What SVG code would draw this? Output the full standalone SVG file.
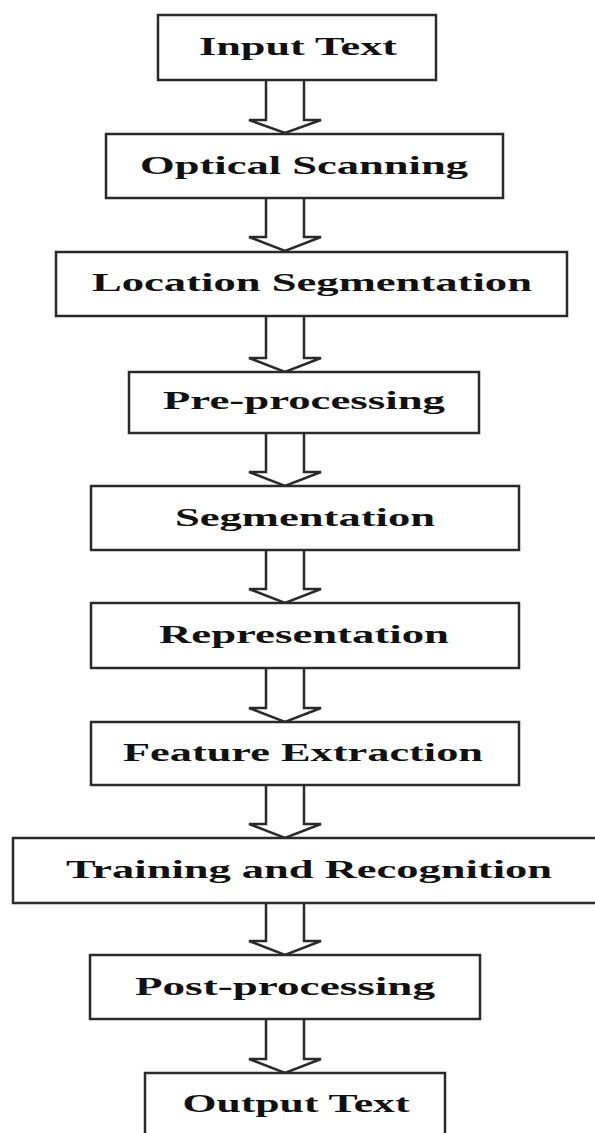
<svg xmlns="http://www.w3.org/2000/svg" width="595" height="1133" viewBox="0 0 595 1133">
<defs>
<style>
.box{fill:#fff;stroke:#2a2a2a;stroke-width:2.5}
.lbl{font-family:"Liberation Serif","Times New Roman",serif;font-weight:bold;font-size:26px;fill:#111;text-anchor:middle}
.arr{fill:#fff;stroke:#2a2a2a;stroke-width:2.5;stroke-linejoin:miter}
</style>
</defs>
<rect width="595" height="1133" fill="#fff"/>
<g id="connectors">
<polyline class="arr" points="266,80 266,120 249,120 285,133 321,120 304,120 304,80"/>
<polyline class="arr" points="266,198 266,237 249,237 285,251 321,237 304,237 304,198"/>
<polyline class="arr" points="266,316 266,358 249,358 285,372 321,358 304,358 304,316"/>
<polyline class="arr" points="266,433 266,472 249,472 285,486 321,472 304,472 304,433"/>
<polyline class="arr" points="266,550 266,589 249,589 285,603 321,589 304,589 304,550"/>
<polyline class="arr" points="266,668 266,708 249,708 285,722 321,708 304,708 304,668"/>
<polyline class="arr" points="266,785 266,824 249,824 285,838 321,824 304,824 304,785"/>
<polyline class="arr" points="266,903 266,941 249,941 285,955 321,941 304,941 304,903"/>
<polyline class="arr" points="266,1019 266,1059 249,1059 285,1073 321,1059 304,1059 304,1019"/>
</g>
<g id="input-text">
<rect class="box" x="158" y="15" width="278" height="65"/>
<text class="lbl" x="298" y="55" textLength="198" lengthAdjust="spacingAndGlyphs">Input Text</text>
</g>
<g id="optical-scanning">
<rect class="box" x="106" y="134" width="397" height="64"/>
<text class="lbl" x="304" y="174" textLength="328" lengthAdjust="spacingAndGlyphs">Optical Scanning</text>
</g>
<g id="location-segmentation">
<rect class="box" x="56" y="252" width="511" height="64"/>
<text class="lbl" x="312" y="291" textLength="440" lengthAdjust="spacingAndGlyphs">Location Segmentation</text>
</g>
<g id="pre-processing">
<rect class="box" x="129" y="372" width="350" height="61"/>
<text class="lbl" x="304" y="409" textLength="282" lengthAdjust="spacingAndGlyphs">Pre-processing</text>
</g>
<g id="segmentation">
<rect class="box" x="91" y="486" width="428" height="64"/>
<text class="lbl" x="305" y="526" textLength="260" lengthAdjust="spacingAndGlyphs">Segmentation</text>
</g>
<g id="representation">
<rect class="box" x="91" y="603" width="428" height="65"/>
<text class="lbl" x="304" y="643" textLength="290" lengthAdjust="spacingAndGlyphs">Representation</text>
</g>
<g id="feature-extraction">
<rect class="box" x="91" y="722" width="428" height="63"/>
<text class="lbl" x="303" y="761" textLength="360" lengthAdjust="spacingAndGlyphs">Feature Extraction</text>
</g>
<g id="training-recognition">
<rect class="box" x="13" y="838" width="600" height="65"/>
<text class="lbl" x="309" y="878" textLength="486" lengthAdjust="spacingAndGlyphs">Training and Recognition</text>
</g>
<g id="post-processing">
<rect class="box" x="90" y="955" width="390" height="64"/>
<text class="lbl" x="285" y="995" textLength="300" lengthAdjust="spacingAndGlyphs">Post-processing</text>
</g>
<g id="output-text">
<rect class="box" x="145" y="1073" width="300" height="70"/>
<text class="lbl" x="296" y="1112" textLength="227" lengthAdjust="spacingAndGlyphs">Output Text</text>
</g>
</svg>
